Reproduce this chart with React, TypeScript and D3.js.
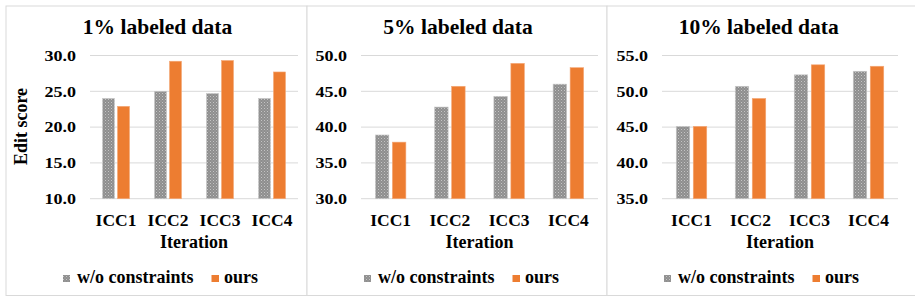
import React from "react";
import * as d3 from "d3";

const categories = ["ICC1", "ICC2", "ICC3", "ICC4"];
const titles = ["1% labeled data", "5% labeled data", "10% labeled data"];
const seriesNames = ["w/o constraints", "ours"];

const woConstraints1 = [24.0, 25.0, 24.7, 24.0];
const ours1 = [22.9, 29.2, 29.3, 27.7];
const woConstraints5 = [38.9, 42.8, 44.3, 46.0];
const ours5 = [37.9, 45.7, 48.9, 48.3];
const woConstraints10 = [45.1, 50.7, 52.3, 52.8];
const ours10 = [45.1, 49.0, 53.7, 53.5];

const ticks1 = [10, 15, 20, 25, 30];
const ticks5 = [30, 35, 40, 45, 50];
const ticks10 = [35, 40, 45, 50, 55];

const FONT = "'Liberation Serif', 'Times New Roman', serif";
const ORANGE = "#ED7D31";
const GRID = "#d9d9d9";

const panels = [
  { left: 6, right: 307, plotL: 90, plotR: 298, ticks: ticks1, a: woConstraints1, b: ours1, title: titles[0], yTitle: true, barW: 12, gap: 3 },
  { left: 307, right: 607, plotL: 361, plotR: 598, ticks: ticks5, a: woConstraints5, b: ours5, title: titles[1], yTitle: false, barW: 13.5, gap: 3.5 },
  { left: 607, right: 916, plotL: 662, plotR: 898, ticks: ticks10, a: woConstraints10, b: ours10, title: titles[2], yTitle: false, barW: 13.5, gap: 3.5 },
];

const TOP = 55.5;
const BOTTOM = 198.7;

function Panel({ p, idx }: { p: any; idx: number }) {
  const x = d3.scaleBand<string>().domain(categories).range([p.plotL, p.plotR]);
  const y = d3
    .scaleLinear()
    .domain([p.ticks[0], p.ticks[p.ticks.length - 1]])
    .range([BOTTOM, TOP]);
  const center = (p.left + p.right) / 2;
  const titleCenter = idx === 2 ? 758.7 : center + 1;
  const plotCenter = (p.plotL + p.plotR) / 2;
  const legX = p.left + 57;
  return (
    <g>
      <rect x={p.left} y={6} width={p.right - p.left} height={289.5} fill="white" stroke={GRID} strokeWidth={1} />
      <text x={titleCenter} y={34.3} textAnchor="middle" fontSize={21.5} fontWeight="bold" fontFamily={FONT} fill="#000">
        {p.title}
      </text>
      {p.ticks.map((t: number) => (
        <g key={t}>
          <line x1={p.plotL} x2={p.plotR} y1={y(t)} y2={y(t)} stroke={GRID} strokeWidth={1} />
          <text
            transform={`translate(${p.plotL - 14},${y(t) + 5.2}) scale(1.2,1)`}
            textAnchor="end"
            fontSize={15}
            fontWeight="bold"
            fontFamily={FONT}
            fill="#000"
          >
            {t.toFixed(1)}
          </text>
        </g>
      ))}
      {categories.map((c, i) => {
        const cx = (x(c) as number) + x.bandwidth() / 2;
        const groupW = p.barW * 2 + p.gap;
        const x0 = cx - groupW / 2;
        return (
          <g key={c}>
            <rect x={x0} y={y(p.a[i])} width={p.barW} height={BOTTOM - y(p.a[i])} fill="url(#checker)" stroke="#c8c8c8" strokeWidth={0.6} />
            <rect x={x0 + p.barW + p.gap} y={y(p.b[i])} width={p.barW} height={BOTTOM - y(p.b[i])} fill={ORANGE} stroke="#f4a878" strokeWidth={0.6} />
            <text x={cx} y={226} textAnchor="middle" fontSize={17.5} fontWeight="bold" fontFamily={FONT} fill="#000">
              {c}
            </text>
          </g>
        );
      })}
      <text x={plotCenter} y={248} textAnchor="middle" fontSize={18} fontWeight="bold" fontFamily={FONT} fill="#000">
        Iteration
      </text>
      {p.yTitle && (
        <text
          transform={`translate(27,126.5) rotate(-90)`}
          textAnchor="middle"
          fontSize={18}
          fontWeight="bold"
          fontFamily={FONT}
          fill="#000"
        >
          Edit score
        </text>
      )}
      <rect x={legX} y={275} width={7} height={7} fill="url(#checker)" />
      <text x={legX + 14} y={283.3} fontSize={18} fontWeight="bold" fontFamily={FONT} fill="#000">
        {seriesNames[0]}
      </text>
      <rect x={legX + 148.5} y={275} width={7.5} height={7} fill={ORANGE} />
      <text x={legX + 161} y={283.3} fontSize={18} fontWeight="bold" fontFamily={FONT} fill="#000">
        {seriesNames[1]}
      </text>
    </g>
  );
}

export default function App() {
  return (
    <div style={{ position: "absolute", left: 0, top: 0 }}>
      <svg width={915} height={305} style={{ display: "block", background: "white" }}>
        <defs>
          <pattern id="checker" patternUnits="userSpaceOnUse" width={3} height={3}>
            <rect width={3} height={3} fill="#8e8e8e" />
            <rect x={0} y={0} width={1} height={1} fill="#c4c4c4" />
            <rect x={1.5} y={1.5} width={1} height={1} fill="#b0b0b0" />
          </pattern>
        </defs>
        <rect width={915} height={305} fill="white" />
        {panels.map((p, i) => (
          <Panel key={i} p={p} idx={i} />
        ))}
      </svg>
    </div>
  );
}
